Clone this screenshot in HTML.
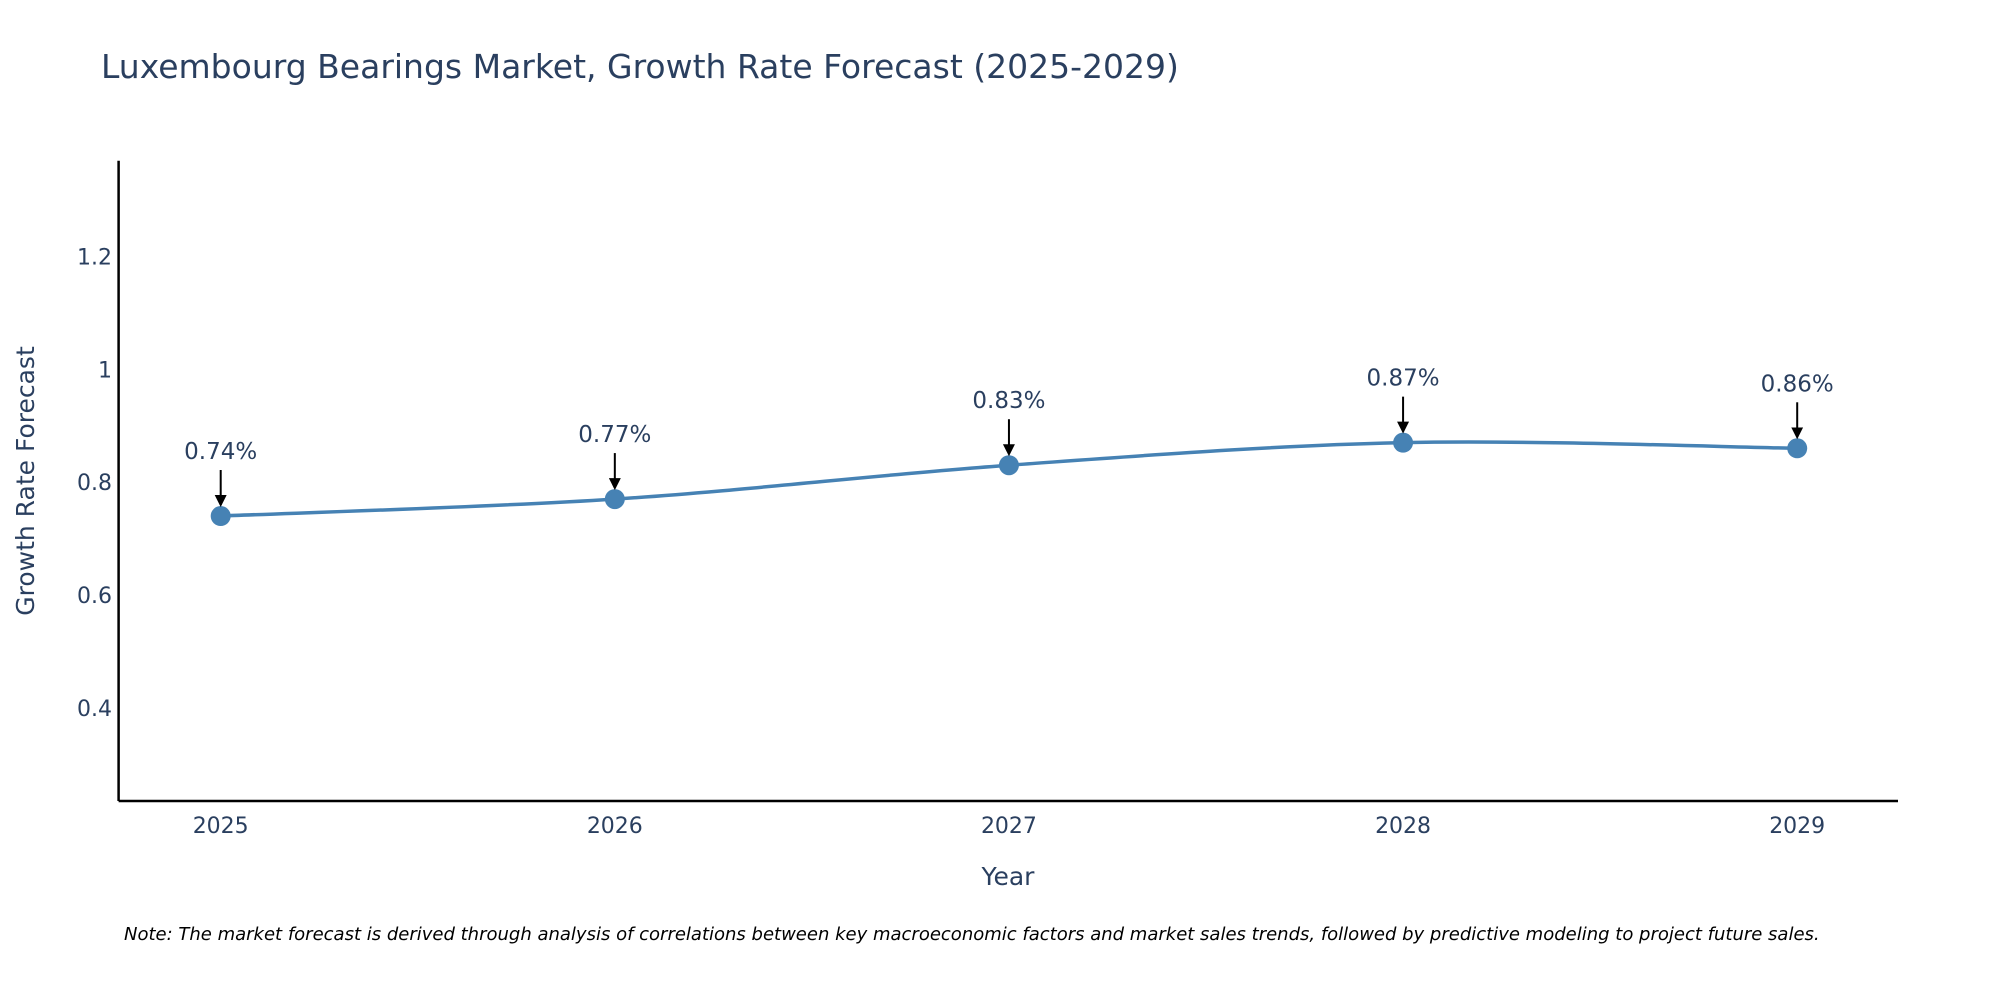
<!DOCTYPE html>
<html><head><meta charset="utf-8"><style>
body{margin:0;background:#fff;}
svg{display:block;font-family:"DejaVu Sans","Liberation Sans",sans-serif;}
</style></head><body>
<svg id="chart" width="2000" height="1000" viewBox="0 0 2000 1000">
<text x="101" y="78" font-size="33" fill="#2a3f5f">Luxembourg Bearings Market, Growth Rate Forecast (2025-2029)</text>
<g id="yticks"></g>
<g id="xticks"></g>
<line x1="118.6" y1="160.7" x2="118.6" y2="801" stroke="#000" stroke-width="2.5"/>
<line x1="118.6" y1="801" x2="1898" y2="801" stroke="#000" stroke-width="2.5"/>
<path id="line" fill="none" stroke="#4682b4" stroke-width="3.5"/>
<g id="marks"></g>
<text x="1008" y="885" font-size="25" fill="#2a3f5f" text-anchor="middle">Year</text>
<text x="0" y="0" font-size="25" fill="#2a3f5f" text-anchor="middle" transform="translate(34,481) rotate(-90)">Growth Rate Forecast</text>
<text x="124" y="940" font-size="18" font-style="italic" fill="#000">Note: The market forecast is derived through analysis of correlations between key macroeconomic factors and market sales trends, followed by predictive modeling to project future sales.</text>
<defs><marker id="ah" markerWidth="6" markerHeight="6" refX="5" refY="3" orient="auto" markerUnits="strokeWidth"><path d="M0,0 L6,3 L0,6 Z" fill="#000"/></marker></defs>
</svg>
<script>
const years=[2025,2026,2027,2028,2029];
const values=[0.74,0.77,0.83,0.87,0.86];
const labels=["0.74%","0.77%","0.83%","0.87%","0.86%"];
const yTicks=[0.4,0.6,0.8,1,1.2];
const ns="http://www.w3.org/2000/svg";
function X(v){return 220.7+(v-2025)*(1797.2-220.7)/4;}
function Y(v){return 707.9-(v-0.4)*(707.9-256.4)/0.8;}
function mk(tag,attrs,parent,txt){const e=document.createElementNS(ns,tag);for(const k in attrs)e.setAttribute(k,attrs[k]);if(txt!==undefined)e.textContent=txt;parent.appendChild(e);return e;}
const yt=document.getElementById('yticks');
yTicks.forEach(t=>{
 const e=mk('text',{x:112,y:Y(t)+8,'font-size':22,fill:'#2a3f5f','text-anchor':'end'},yt,String(t));
 
 
});
const xt=document.getElementById('xticks');
years.forEach(t=>{
 const e=mk('text',{x:X(t),y:833,'font-size':22,fill:'#2a3f5f','text-anchor':'middle'},xt,String(t));
 
 
});
const pts=years.map((y,i)=>[X(y),Y(values[i])]);
let d='M'+pts[0][0]+','+pts[0][1];
for(let i=0;i<pts.length-1;i++){
 const p0=pts[Math.max(0,i-1)],p1=pts[i],p2=pts[i+1],p3=pts[Math.min(pts.length-1,i+2)];
 const c1=[p1[0]+(p2[0]-p0[0])/6,p1[1]+(p2[1]-p0[1])/6];
 const c2=[p2[0]-(p3[0]-p1[0])/6,p2[1]-(p3[1]-p1[1])/6];
 d+=' C'+c1+' '+c2+' '+p2;
}
document.getElementById('line').setAttribute('d',d);
const g=document.getElementById('marks');
pts.forEach((p,i)=>{
 const c=mk('circle',{cx:p[0],cy:p[1],r:10,fill:'#4682b4'},g);
 
 
 const a=mk('line',{x1:p[0],y1:p[1]-46,x2:p[0],y2:p[1]-11,stroke:'#000','stroke-width':2,'marker-end':'url(#ah)'},g);
 
 
 const t=mk('text',{x:p[0],y:p[1]-57,'font-size':23,fill:'#2a3f5f','text-anchor':'middle'},g,labels[i]);
 
 
});
</script>
</body></html>
